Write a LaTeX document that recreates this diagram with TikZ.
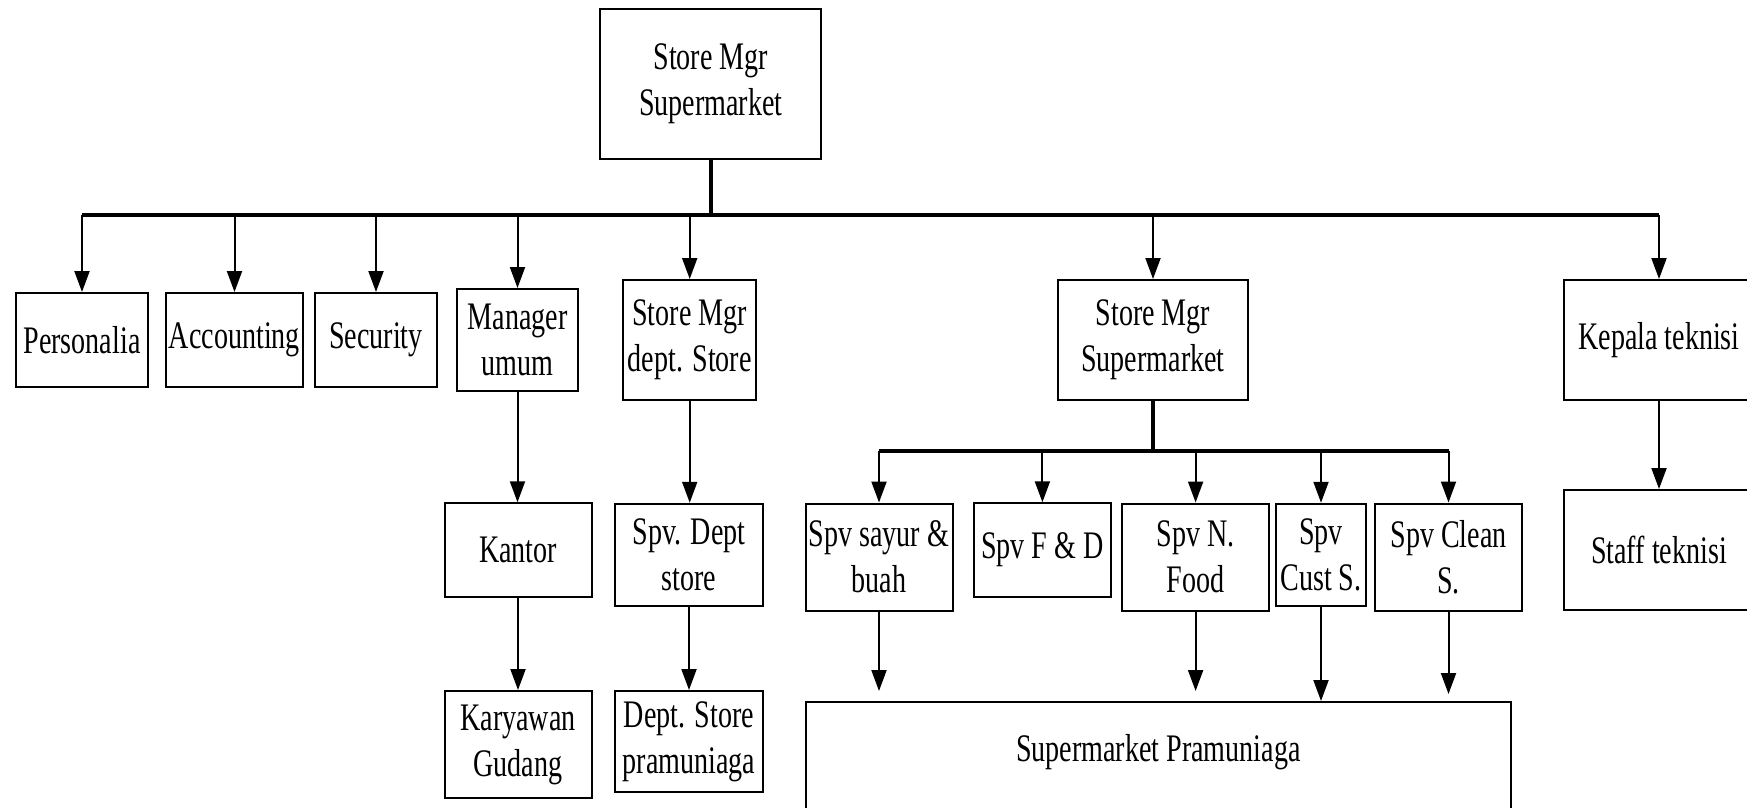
\documentclass[tikz,border=0pt]{standalone}
\usepackage{fontspec}
\setmainfont{Liberation Serif}[FakeStretch=0.72]
\usetikzlibrary{arrows.meta,calc}
\begin{document}
\begin{tikzpicture}[x=1pt,y=-1pt,
orgbox/.style={draw,line width=2pt,align=center,inner sep=2pt,font=\fontsize{39}{46}\selectfont},
arr/.style={line width=2pt,-{Triangle[length=21pt,width=15pt]}},
busline/.style={line width=3.5pt}]
\useasboundingbox (0,0) rectangle (1747,807);
\node[orgbox,minimum width=221pt,minimum height=150pt] (top) at (710.8,84) {Store Mgr\\Supermarket};
\node[orgbox,minimum width=132pt,minimum height=94pt] (pers) at (82,340) {Personalia};
\node[orgbox,minimum width=137pt,minimum height=94pt] (acc) at (234.5,340) {Accounting};
\node[orgbox,minimum width=122pt,minimum height=94pt] (sec) at (376,340) {Security};
\node[orgbox,minimum width=121pt,minimum height=102pt] (mu) at (517.5,340) {Manager\\umum};
\node[orgbox,minimum width=133.5pt,minimum height=120pt] (msd) at (689.7,340) {Store Mgr\\dept. Store};
\node[orgbox,minimum width=189.5pt,minimum height=120pt] (msm) at (1153,340) {Store Mgr\\Supermarket};
\node[orgbox,minimum width=190pt,minimum height=120pt] (kep) at (1659,340) {Kepala teknisi};
\node[orgbox,minimum width=147pt,minimum height=93.5pt] (kan) at (518,550) {Kantor};
\node[orgbox,minimum width=147pt,minimum height=107pt] (kar) at (518,744.5) {Karyawan\\Gudang};
\node[orgbox,minimum width=148pt,minimum height=102.5pt] (sdept) at (689,555) {Spv. Dept\\store};
\node[orgbox,minimum width=148pt,minimum height=101pt] (dsp) at (689,741.5) {Dept. Store\\pramuniaga};
\node[orgbox,minimum width=147pt,minimum height=107pt] (ssb) at (879,557) {Spv sayur \&\\buah};
\node[orgbox,minimum width=137pt,minimum height=93.5pt] (sfd) at (1042.4,550) {Spv F \& D};
\node[orgbox,minimum width=147pt,minimum height=107pt] (snf) at (1195.6,557) {Spv N.\\Food};
\node[orgbox,minimum width=90pt,minimum height=102.5pt] (scs) at (1321,555) {Spv\\Cust S.};
\node[orgbox,minimum width=147pt,minimum height=107pt] (scl) at (1448.5,557) {Spv Clean\\S.};
\node[orgbox,minimum width=190pt,minimum height=120pt] (staff) at (1659,550) {Staff teknisi};
\node[orgbox,minimum width=705.5pt,inner ysep=0pt,text height=59pt,text depth=200pt,anchor=north] (pram) at (1158.3,701) {Supermarket Pramuniaga};
\coordinate (bus) at (710.8,215);
\coordinate (sbus) at (1153,451);
\draw[busline] (top) -- (bus);\draw[busline] (bus -| pers) -- (bus -| kep);
\foreach \n in {pers,acc,sec,mu,msd,msm,kep} \draw[arr] (bus -| \n) -- (\n.north);
\draw[busline] (msm) -- (sbus);\draw[busline] (sbus -| ssb) -- (sbus -| scl);
\foreach \n in {ssb,sfd,snf,scs,scl} \draw[arr] (sbus -| \n) -- (\n.north);
\draw[arr] (mu) -- (mu |- kan.north);\draw[arr] (kan) -- (kar);
\draw[arr] (msd) -- (msd |- sdept.north);\draw[arr] (sdept) -- (dsp);
\draw[arr] (kep) -- (staff);
\draw[arr] (ssb) -- ($(ssb |- pram.north)+(0,-10)$);
\draw[arr] (snf) -- ($(snf |- pram.north)+(0,-10)$);
\draw[arr] (scs) -- (scs |- pram.north);
\draw[arr] (scl) -- ($(scl |- pram.north)+(0,-7)$);
\end{tikzpicture}
\end{document}
